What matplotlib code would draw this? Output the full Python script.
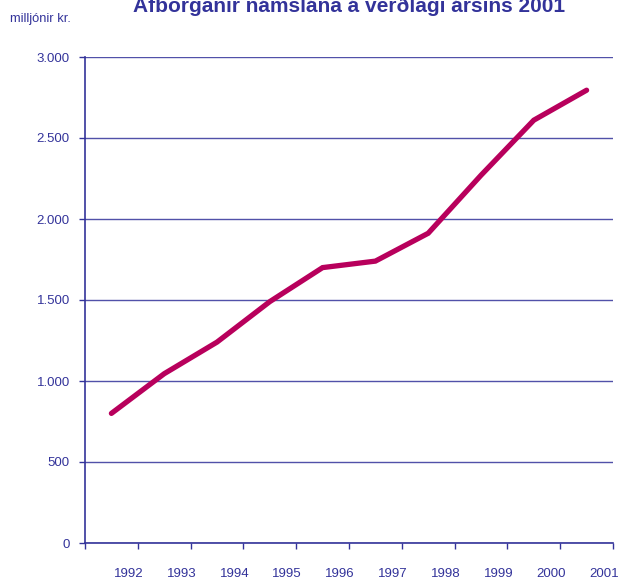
import numpy as np
import matplotlib.pyplot as plt
from matplotlib.ticker import FuncFormatter

# gögn
years = ["1992", "1993", "1994", "1995", "1996", "1997", "1998", "1999", "2000", "2001"]
values = [800, 1045, 1240, 1490, 1700, 1740, 1912, 2270, 2610, 2795]
y_ticks = [0, 500, 1000, 1500, 2000, 2500, 3000]

navy = "#33339a"
line_col = "#b8005c"

plt.rcParams['font.family'] = ['Liberation Sans', 'DejaVu Sans']

fig = plt.figure(figsize=(6.27, 5.79), dpi=100)
ax = fig.add_axes([85/627, 1-543/579, (613-85)/627, (543-57)/579])

x = np.arange(len(years)) + 0.5
ax.plot(x, values, color=line_col, lw=3.8, solid_capstyle='round', solid_joinstyle='miter', zorder=3)

ax.set_xlim(0, len(years))
ax.set_ylim(0, 3000)

# gridlínur
ax.set_yticks(y_ticks)
ax.yaxis.set_major_formatter(FuncFormatter(lambda v, p: f"{int(v):,}".replace(",", ".")))
ax.grid(axis='y', color=navy, lw=1.0, alpha=0.85)
ax.set_axisbelow(True)

# x-ás: strik milli flokka, merki við hægra strik
ax.set_xticks(np.arange(len(years) + 1))
ax.set_xticklabels([])
ax.tick_params(axis='x', which='major', direction='out', length=4, color=navy, width=1)
ax.set_xticks(np.arange(1, len(years) + 1) - 0.17, minor=True)
ax.set_xticklabels(years, minor=True)
ax.tick_params(axis='x', which='minor', length=0, pad=18, labelsize=9.5, labelcolor=navy)
ax.tick_params(axis='y', direction='out', length=4, color=navy, width=1, labelsize=9.5, labelcolor=navy, pad=7)

for s in ['top', 'right']:
    ax.spines[s].set_visible(False)
for s in ['left', 'bottom']:
    ax.spines[s].set_color(navy)
    ax.spines[s].set_linewidth(1.2)

fig.text(349/627, 1-12/579, "Afborganir námslána á verðlagi ársins 2001", ha='center', va='baseline',
         fontsize=15, fontweight='bold', color=navy)
fig.text(10/627, 1-22/579, "milljónir kr.", ha='left', va='baseline', fontsize=9.3, color=navy)

fig.savefig("out.png", dpi=100)
